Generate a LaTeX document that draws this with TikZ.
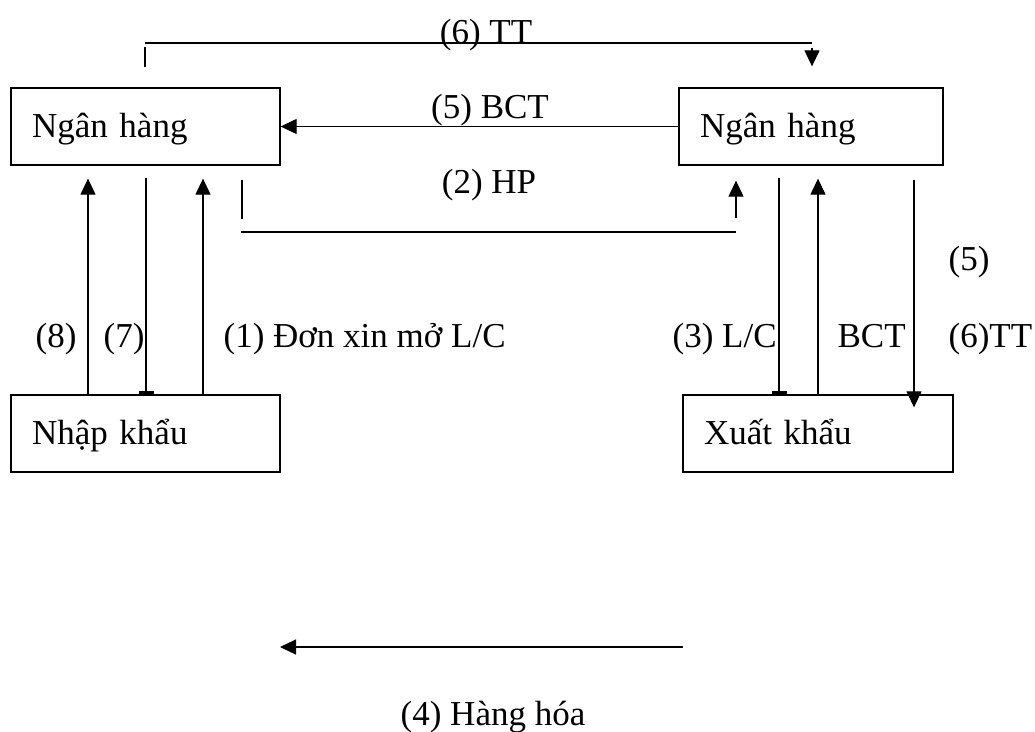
\documentclass[tikz,border=0pt]{standalone}
\usepackage{fontspec}
\setmainfont{Liberation Serif}
\usetikzlibrary{arrows.meta,calc}
\begin{document}
\begin{tikzpicture}[x=1pt,y=-1pt,line width=1.2pt,
  every node/.style={font=\fontsize{35}{42}\selectfont},
  box/.style={draw,line width=1.3pt,minimum height=77pt,inner ysep=0pt,inner xsep=21pt,align=left,text height=29pt,text depth=8pt},
  lbl/.style={inner sep=0pt},
  arr/.style={-{Triangle[length=16pt,width=15pt]}},
  flat/.style={-{Rectangle[length=3pt,width=15pt]}}]
\fill[white] (0,0) rectangle (1035,731);
\useasboundingbox (0,0) rectangle (1035,731);
% boxes
\node[box,text width=227pt] (nh1) at (145.5,126.5) {Ngân hàng};
\node[box,text width=222pt] (nh2) at (811,126.5) {Ngân hàng};
\node[box,text width=227pt] (nk) at (145.5,433.5) {Nhập khẩu};
\node[box,text width=228pt] (xk) at (818,433.5) {Xuất khẩu};
% (6) TT top
\coordinate (t1) at (145,43);
\coordinate (t2) at (812,43);
\draw ($(nh1.north -| t1)+(0,-20)$) -- ++(0,-20);
\draw (t1) -- (t2);
\draw[arr,shorten >=21pt] ($(t2)+(0,5)$) -- (t2 |- nh2.north);
\node[lbl,anchor=base] (l6) at (486,43) {(6) TT};
% (5) BCT
\draw[arr] (nh2.west) -- (nh1.east);
\node[lbl,anchor=base] (l5) at (490,118) {(5) BCT};
% (2) HP
\coordinate (h1) at (241,232);
\coordinate (h2) at (736,232);
\draw ($(nh1.south -| 242,0)+(0,14)$) -- ++(0,39);
\draw (h1) -- (h2);
\draw[arr] ($(h2)+(0,-14)$) -- ($(nh2.south -| h2)+(0,15)$);
\node[lbl,anchor=base] (l2) at (489,193) {(2) HP};
% left verticals
\draw[arr,shorten >=13pt] (nk.north -| 88,0) -- (nh1.south -| 88,0);
\draw[flat] ($(nh1.south -| 146,0)+(0,12)$) -- (nk.north -| 146,0);
\draw[arr,shorten >=13pt] (nk.north -| 203,0) -- (nh1.south -| 203,0);
\node[lbl,anchor=base] (l8) at (56,347) {(8)};
\node[lbl,anchor=base] (l7) at (124,347) {(7)};
\node[lbl,anchor=base west] (l1) at (223,347) {(1) Đơn xin mở L/C};
% right verticals
\draw[flat] ($(nh2.south -| 779,0)+(0,12)$) -- (xk.north -| 779,0);
\draw[arr,shorten >=13pt] (xk.north -| 818,0) -- (nh2.south -| 818,0);
\draw[arr] ($(nh2.south -| 914,0)+(0,14)$) -- ($(xk.north -| 914,0)+(0,13)$);
\node[lbl,anchor=base west] (l3) at (672,347) {(3) L/C};
\node[lbl,anchor=base west] (lb) at (837,347) {BCT};
\node[lbl,anchor=base west] (l5b) at (948,270) {(5)};
\node[lbl,anchor=base west] (l6b) at (948,347) {(6)TT};
% (4) goods
\coordinate (g1) at (683,647);
\coordinate (g2) at (280,647);
\draw[arr] (g1) -- (g2);
\node[lbl,anchor=base] (l4) at (493,725) {(4) Hàng hóa};
\end{tikzpicture}
\end{document}
